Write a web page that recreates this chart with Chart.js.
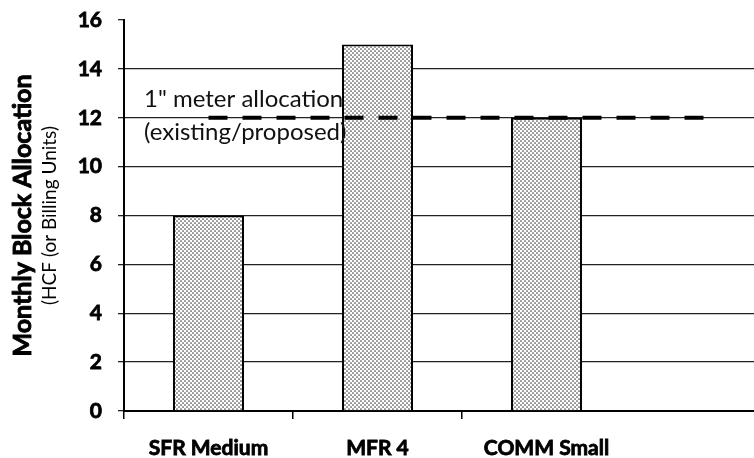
<!DOCTYPE html>
<html>
<head>
<meta charset="utf-8">
<script src="https://cdn.jsdelivr.net/npm/chart.js@4.4.1/dist/chart.umd.min.js"></script>
<style>
  html, body { margin: 0; padding: 0; background: #fff; overflow: hidden; }
  /* plot area runs past the right edge, as in the cropped original */
  #wrap { position: relative; width: 800px; height: 458px; }
</style>
</head>
<body>
<div id="wrap"><canvas id="chart"></canvas></div>
<script>
(function () {
  'use strict';

  const CATEGORIES = ['SFR Medium', 'MFR 4', 'COMM Small'];
  const ALLOCATION = [8, 15, 12];
  const METER_ALLOCATION = 12;
  const Y_MIN = 0;
  const Y_MAX = 16;
  const Y_STEP = 2;

  const FONT = 'Lato, Carlito, "Open Sans", sans-serif';

  // trailing empty slot keeps the plot running off the right edge
  const labels = CATEGORIES.concat(['']);
  const barData = ALLOCATION.concat([null]);
  const lineData = labels.map(function () { return METER_ALLOCATION; });

  function stipple() {
    const c = document.createElement('canvas');
    c.width = 4; c.height = 4;
    const g = c.getContext('2d');
    g.fillStyle = '#fff';
    g.fillRect(0, 0, 4, 4);
    g.fillStyle = '#444';
    g.beginPath(); g.arc(1, 1, 0.85, 0, Math.PI * 2); g.fill();
    g.beginPath(); g.arc(3, 3, 0.85, 0, Math.PI * 2); g.fill();
    return g.createPattern(c, 'repeat');
  }

  // axis titles and the note on the dashed line
  const extraText = {
    id: 'extraText',
    afterDraw: function (chart) {
      const ctx = chart.ctx;
      const area = chart.chartArea;
      const y = chart.scales.y.getPixelForValue(METER_ALLOCATION);
      ctx.save();
      ctx.fillStyle = '#111';
      ctx.font = '24px ' + FONT;
      ctx.textAlign = 'left';
      ctx.textBaseline = 'middle';
      ctx.fillText('1" meter allocation', area.left + 20, y - 18);
      ctx.fillText('(existing/proposed)', area.left + 20, y + 15);

      const midY = (area.top + area.bottom) / 2;
      ctx.textAlign = 'center';
      ctx.fillStyle = '#000';
      ctx.strokeStyle = '#000';

      ctx.save();
      ctx.translate(23, midY);
      ctx.rotate(-Math.PI / 2);
      ctx.font = 'bold 25px ' + FONT;
      ctx.lineWidth = 0.9;
      ctx.fillText('Monthly Block Allocation', 0, 0);
      ctx.strokeText('Monthly Block Allocation', 0, 0);
      ctx.restore();

      ctx.translate(50, midY);
      ctx.rotate(-Math.PI / 2);
      ctx.font = '19px ' + FONT;
      ctx.fillText('(HCF (or Billing Units)', 0, 0);
      ctx.restore();
    }
  };

  new Chart(document.getElementById('chart'), {
    data: {
      labels: labels,
      datasets: [
        {
          type: 'line',
          label: 'Meter allocation',
          data: lineData,
          borderColor: '#000',
          borderWidth: 4,
          borderDash: [19, 15],
          pointRadius: 0,
          fill: false,
          order: 0,
        },
        {
          type: 'bar',
          label: 'Monthly block allocation',
          data: barData,
          backgroundColor: stipple(),
          borderColor: '#000',
          borderWidth: 2,
          barPercentage: 0.42,
          categoryPercentage: 1,
          order: 1,
        },
      ],
    },
    options: {
      responsive: true,
      maintainAspectRatio: false,
      animation: false,
      layout: { padding: { top: 20, right: 0, bottom: 0, left: 0 } },
      plugins: {
        legend: { display: false },
        tooltip: { enabled: false },
      },
      scales: {
        x: {
          type: 'category',
          offset: true,
          afterFit: function (scale) { scale.height = 47; },
          grid: {
            offset: true,
            drawOnChartArea: false,
            tickLength: 8,
            lineWidth: 1.5,
            color: function (ctx) { return ctx.index < CATEGORIES.length ? '#000' : 'rgba(0,0,0,0)'; },
          },
          border: { color: '#000', width: 2 },
          ticks: {
            color: '#000',
            padding: 17,
            textStrokeColor: '#000',
            textStrokeWidth: 0.8,
            font: { family: FONT, size: 21, weight: 'bold' },
          },
        },
        y: {
          min: Y_MIN,
          max: Y_MAX,
          afterFit: function (scale) {
            scale.width = 124;
            scale.paddingTop = 0;
            scale.paddingBottom = 0;
          },
          grid: {
            tickLength: 6,
            lineWidth: 1.3,
            tickColor: '#222',
            color: function (ctx) {
              return ctx.tick && ctx.tick.value === Y_MAX ? 'rgba(0,0,0,0)' : '#222';
            },
          },
          border: { color: '#000', width: 2 },
          ticks: {
            stepSize: Y_STEP,
            color: '#000',
            padding: 16,
            textStrokeColor: '#000',
            textStrokeWidth: 0.8,
            font: { family: FONT, size: 21, weight: 'bold' },
          },
        },
      },
    },
    plugins: [extraText],
  });
})();
</script>
</body>
</html>
